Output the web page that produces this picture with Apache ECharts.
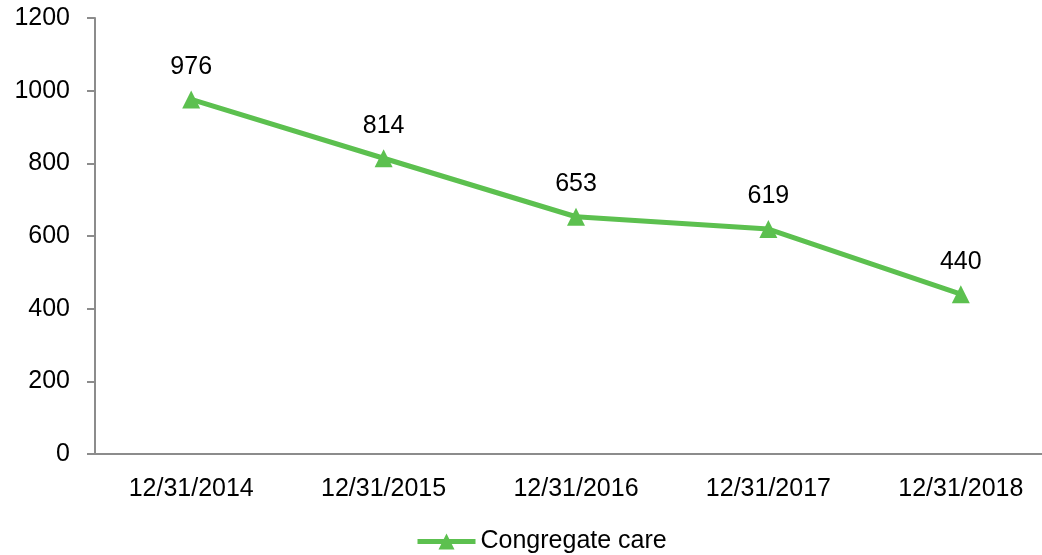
<!DOCTYPE html>
<html>
<head>
<meta charset="utf-8">
<script src="https://cdn.jsdelivr.net/npm/echarts@6/dist/echarts.min.js"></script>
<style>
    html, body { margin: 0; padding: 0; background: #fff; overflow: hidden; }
    #main { width: 1058px; height: 555px; }
</style>
</head>
<body>
<div id="main"></div>
<script>
// 数据
var dates = ['12/31/2014', '12/31/2015', '12/31/2016', '12/31/2017', '12/31/2018'];
var congregateCare = [976, 814, 653, 619, 440];
var seriesName = 'Congregate care';

// 图表比画面略宽，右端被裁掉（与原图一致）
var myChart = echarts.init(document.getElementById('main'));
var green = '#5CC04F';
var fontFamily = 'Liberation Sans, Arial, sans-serif';

var option = {
    animation: false,
    grid: {
        left: 95,
        top: 18,
        right: 1,
        height: 436
    },
    legend: {
        left: 410,
        bottom: -4,
        data: [seriesName],
        itemWidth: 58,
        itemHeight: 20,
        itemGap: 4,
        lineStyle: { width: 5 },
        textStyle: {
            fontFamily: fontFamily,
            fontSize: 25,
            color: '#000'
        }
    },
    xAxis: {
        type: 'category',
        data: dates,
        axisLine: {
            lineStyle: { color: '#8c8c8c', width: 2 }
        },
        axisTick: { show: false },
        axisLabel: {
            margin: 23,
            fontFamily: fontFamily,
            fontSize: 25,
            color: '#000'
        }
    },
    yAxis: {
        type: 'value',
        min: 0,
        max: 1200,
        interval: 200,
        splitLine: { show: false },
        axisLine: {
            show: true,
            lineStyle: { color: '#8c8c8c', width: 2 }
        },
        axisTick: {
            show: true,
            length: 8,
            lineStyle: { color: '#8c8c8c', width: 2 }
        },
        axisLabel: {
            margin: 25,
            fontFamily: fontFamily,
            fontSize: 25,
            color: '#000',
            formatter: function (v) {
                return String(v);
            }
        }
    },
    series: [{
        name: seriesName,
        type: 'line',
        data: congregateCare,
        symbol: 'triangle',
        symbolSize: 18,
        lineStyle: { color: green, width: 5 },
        itemStyle: { color: green },
        label: {
            show: true,
            position: 'top',
            distance: 11,
            fontFamily: fontFamily,
            fontSize: 25,
            color: '#000'
        }
    }]
};

myChart.setOption(option);
</script>
</body>
</html>
